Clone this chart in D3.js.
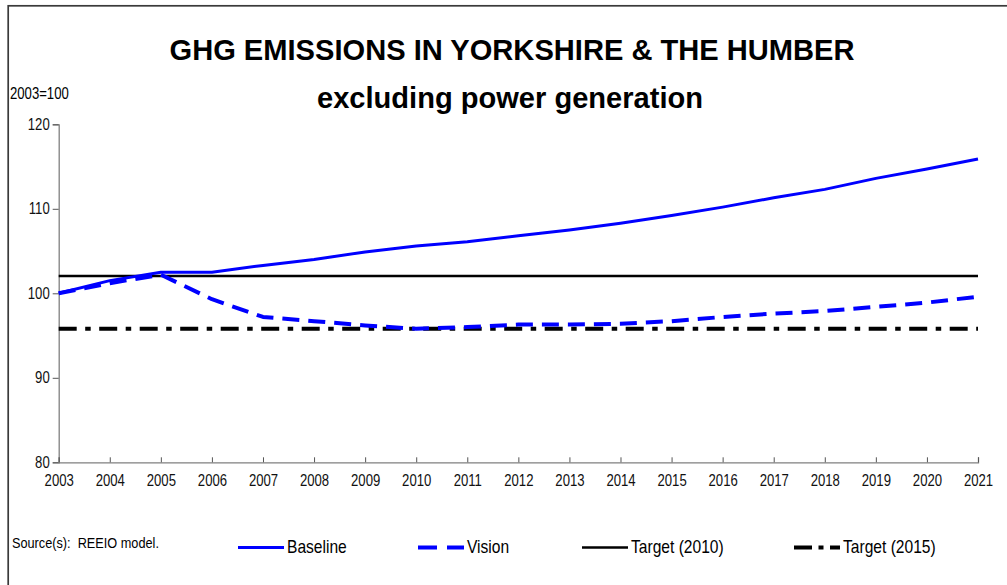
<!DOCTYPE html>
<html>
<head>
<meta charset="utf-8">
<script src="https://cdn.jsdelivr.net/npm/d3@7"></script>
<style>
  html, body { margin: 0; padding: 0; background: white; }
</style>
</head>
<body>
<div id="canvas"></div>
<script>
// Constants
const w = 1007;
const h = 585;
const font = "Arial, 'Liberation Sans', sans-serif";
const squeeze = 0.82; // the picture's small text is set narrow

// Data
const years = [2003, 2004, 2005, 2006, 2007, 2008, 2009, 2010, 2011, 2012, 2013, 2014, 2015, 2016, 2017, 2018, 2019, 2020, 2021];
const baseline = [100, 101.5, 102.5, 102.5, 103.3, 104.0, 104.9, 105.6, 106.1, 106.8, 107.5, 108.3, 109.2, 110.2, 111.3, 112.3, 113.6, 114.7, 115.9];
const vision = [100, 101.2, 102.2, 99.3, 97.2, 96.7, 96.2, 95.8, 96.0, 96.3, 96.3, 96.4, 96.7, 97.2, 97.6, 97.9, 98.4, 98.9, 99.6];
const target2010 = 102.05;
const target2015 = 95.8;
const yTicks = [80, 90, 100, 110, 120];
const seriesNames = ["Baseline", "Vision", "Target (2010)", "Target (2015)"];

const xScale = d3.scaleLinear().domain([2003, 2021]).range([58.7, 978]);
const yScale = d3.scaleLinear().domain([80, 120]).range([462.3, 124.3]);

// SVG setup
const svg = d3.select("#canvas").append("svg")
  .attr("width", w)
  .attr("height", h)
  .style("display", "block")
  .style("background-color", "white");

// squeeze text horizontally to look like a narrow face
function narrowText(sel) {
  sel.each(function () {
    const len = this.getComputedTextLength();
    d3.select(this)
      .attr("textLength", len * squeeze)
      .attr("lengthAdjust", "spacingAndGlyphs");
  });
}

// outer frame (only top and left edges are visible in the picture)
svg.append("rect")
  .attr("x", 8.2)
  .attr("y", 5.8)
  .attr("width", w + 20)
  .attr("height", h + 20)
  .attr("fill", "none")
  .attr("stroke", "#3a3a3a")
  .attr("stroke-width", 1.7);

// Title
const title = svg.append("g")
  .style("font-family", font)
  .style("font-weight", "bold")
  .style("font-size", "30px")
  .attr("text-anchor", "middle");

title.append("text")
  .attr("x", 512)
  .attr("y", 60)
  .attr("textLength", 685)
  .attr("lengthAdjust", "spacingAndGlyphs")
  .text("GHG EMISSIONS IN YORKSHIRE & THE HUMBER");

title.append("text")
  .attr("x", 510)
  .attr("y", 108)
  .attr("textLength", 386)
  .attr("lengthAdjust", "spacingAndGlyphs")
  .text("excluding power generation");

svg.append("text")
  .attr("x", 10)
  .attr("y", 99)
  .style("font-family", font)
  .style("font-size", "16px")
  .text("2003=100")
  .call(narrowText);

// Axes
function drawAxes() {
  const yAxis = d3.axisLeft(yScale)
    .tickValues(yTicks)
    .tickSize(6)
    .tickPadding(3);

  const yAxisGroup = svg.append("g")
    .attr("transform", `translate(${xScale(2003)},0)`)
    .call(yAxis);

  const xAxis = d3.axisBottom(xScale)
    .tickValues(years)
    .tickFormat(d3.format("d"))
    .tickSize(-5)
    .tickPadding(12);

  const xAxisGroup = svg.append("g")
    .attr("transform", `translate(0,${yScale(80)})`)
    .call(xAxis);

  [yAxisGroup, xAxisGroup].forEach(g => {
    g.select(".domain").attr("stroke", "#808080").attr("stroke-width", 1.3);
    g.selectAll(".tick line").attr("stroke", "#555").attr("stroke-width", 1);
    g.selectAll(".tick text")
      .attr("fill", "#111")
      .style("font-family", font)
      .style("font-size", "16px")
      .call(narrowText);
  });
  xAxisGroup.selectAll(".tick text").attr("dy", "0.71em");
}

drawAxes();

// Lines
const line = d3.line()
  .x((d, i) => xScale(years[i]))
  .y(d => yScale(d));

const lineStyles = {
  "Baseline": { color: "#0000ff", width: 3, dash: null },
  "Vision": { color: "#0000ff", width: 4, dash: "17,9" },
  "Target (2010)": { color: "#000000", width: 2.7, dash: null },
  "Target (2015)": { color: "#000000", width: 4, dash: "18,8.5,5.5,8.5" }
};

const plot = svg.append("g");

function drawSeries(name, values) {
  const s = lineStyles[name];
  plot.append("path")
    .datum(values)
    .attr("d", line)
    .attr("fill", "none")
    .attr("stroke", s.color)
    .attr("stroke-width", s.width)
    .attr("stroke-dasharray", s.dash)
    .attr("stroke-linejoin", "round");
}

drawSeries("Target (2010)", years.map(() => target2010));
drawSeries("Target (2015)", years.map(() => target2015));
drawSeries("Vision", vision);
drawSeries("Baseline", baseline);

// Footer: source + legend
svg.append("text")
  .attr("x", 12)
  .attr("y", 548)
  .style("font-family", font)
  .style("font-size", "15.5px")
  .style("white-space", "pre")
  .text("Source(s):  REEIO model.")
  .call(narrowText);

const legendX = [238, 418, 582, 794];
const legend = svg.append("g");

seriesNames.forEach((name, i) => {
  const s = lineStyles[name];
  legend.append("line")
    .attr("x1", legendX[i])
    .attr("x2", legendX[i] + 46)
    .attr("y1", 547.5)
    .attr("y2", 547.5)
    .attr("stroke", s.color)
    .attr("stroke-width", s.width)
    .attr("stroke-dasharray", name === "Vision" ? "19,10" : (name === "Target (2015)" ? "18,6.5,5,6.5" : null));

  legend.append("text")
    .attr("x", legendX[i] + 49)
    .attr("y", 553)
    .style("font-family", font)
    .style("font-size", "19px")
    .text(name)
    .call(narrowText);
});
</script>
</body>
</html>
